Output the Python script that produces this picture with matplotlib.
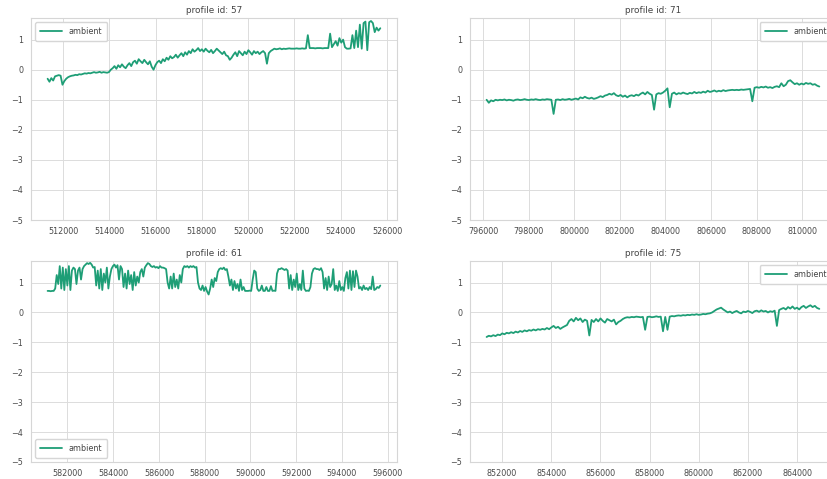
import numpy as np
import matplotlib
matplotlib.use("Agg")
import matplotlib.pyplot as plt
from matplotlib.ticker import MultipleLocator
import seaborn as sns

# ambient temperature (scaled) for four profiles, sampled evenly over the row index
profile_ids = [57, 71, 61, 75]
index_ranges = {
    57: (511330, 525710),
    71: (796150, 810750),
    61: (581130, 595680),
    75: (851370, 864900),
}

ambient_57 = [
    -0.30, -0.40, -0.28, -0.36, -0.22, -0.20, -0.18, -0.20,
    -0.50, -0.38, -0.30, -0.25,
    -0.22, -0.20, -0.19, -0.17, -0.18, -0.15, -0.16, -0.14, -0.12, -0.13, -0.11,
    -0.12, -0.10, -0.08, -0.10, -0.09, -0.07, -0.10, -0.08, -0.09, -0.10, -0.08,
    0.00, 0.05, 0.12, 0.03, 0.15, 0.08, 0.18, 0.10, 0.05, 0.15, 0.22, 0.12,
    0.25, 0.30, 0.20, 0.35, 0.28, 0.22, 0.33, 0.25, 0.18, 0.28, 0.10, 0.00,
    0.15, 0.25, 0.30, 0.22, 0.35, 0.28, 0.40, 0.33, 0.45, 0.38, 0.42, 0.50, 0.40,
    0.48, 0.55, 0.45, 0.58, 0.50, 0.62, 0.55, 0.68, 0.60, 0.65, 0.72, 0.62,
    0.68, 0.60, 0.70, 0.63, 0.58, 0.66, 0.55, 0.62, 0.70, 0.64, 0.58, 0.52, 0.60,
    0.48, 0.45,
    0.33, 0.40,
    0.50, 0.58, 0.45, 0.62, 0.55, 0.48, 0.60, 0.52, 0.65, 0.58, 0.50, 0.62, 0.55,
    0.60, 0.52, 0.58, 0.62, 0.55,
    0.20, 0.55,
    0.62, 0.66, 0.70, 0.68, 0.69, 0.71, 0.68, 0.70, 0.69, 0.70, 0.71, 0.70, 0.70,
    0.70, 0.71, 0.70, 0.70, 0.71, 0.70, 0.71,
    1.15, 0.72,
    0.72, 0.72, 0.71, 0.72, 0.72, 0.72, 0.71, 0.72, 0.72, 0.72,
    1.20, 0.75,
    0.85, 0.95, 0.80, 1.05, 0.90, 1.00, 0.75,
    0.70, 0.70, 0.71,
    1.15, 0.72, 1.30, 0.75,
    1.50, 0.70, 1.55, 1.60, 0.65, 1.58, 1.62, 1.55, 1.25, 1.40, 1.30, 1.38,
]

ambient_71 = [
    -1.00, -1.10, -1.02, -1.05, -1.00,
    -1.02, -1.00, -1.01, -0.99, -1.02, -1.00, -1.01, -1.03, -1.00, -0.99, -1.01,
    -1.00, -0.98, -1.00, -1.01, -0.99, -1.00, -0.98, -1.00, -1.01, -0.99, -1.00,
    -0.98, -0.99, -1.00,
    -1.47,
    -1.00, -0.99, -1.01, -0.98, -1.00, -0.99, -0.97, -1.00, -0.98, -0.96, -0.99,
    -0.92, -0.95, -0.90, -0.94, -0.96, -0.93, -0.97, -0.95, -0.92, -0.88, -0.91,
    -0.86, -0.84,
    -0.80, -0.83, -0.78, -0.85,
    -0.88, -0.84, -0.90, -0.86, -0.92, -0.87, -0.85, -0.88, -0.83, -0.86, -0.80,
    -0.76, -0.82, -0.74, -0.80, -0.84,
    -1.33,
    -0.82, -0.78, -0.80, -0.76, -0.70,
    -0.62, -1.25,
    -0.80, -0.76, -0.82, -0.78, -0.80, -0.76, -0.79, -0.81, -0.77, -0.79, -0.74,
    -0.78, -0.75, -0.77,
    -0.73, -0.76, -0.70, -0.74, -0.72, -0.69, -0.73, -0.70, -0.72, -0.68, -0.71,
    -0.69,
    -0.68, -0.67, -0.68, -0.67, -0.68, -0.66, -0.67, -0.66, -0.65, -0.64,
    -1.05,
    -0.60, -0.58, -0.60, -0.57, -0.59, -0.56, -0.60, -0.58, -0.61, -0.57, -0.55,
    -0.58,
    -0.45, -0.55, -0.50,
    -0.38, -0.35, -0.42,
    -0.48, -0.45, -0.50, -0.46, -0.49, -0.44, -0.47, -0.45, -0.50, -0.48, -0.53,
    -0.56,
]

ambient_61 = [
    0.72, 0.72, 0.71, 0.72, 0.72,
    0.80, 1.25, 0.95, 1.55,
    0.80, 1.50, 0.75, 1.45, 0.90, 1.55, 0.75, 1.40,
    1.50, 1.45, 0.95, 1.40, 1.50, 1.10, 1.45, 1.55,
    1.60, 1.65, 1.62, 1.66, 1.60,
    1.50, 1.52, 0.90,
    1.40, 0.80, 1.45, 0.75, 1.30, 1.00, 1.50, 0.80, 1.20, 1.45,
    1.55, 1.60, 1.50, 1.58, 1.10, 1.55, 1.45,
    0.85, 1.30, 0.80, 1.40, 0.95, 1.25, 0.75, 1.35, 0.90, 1.20, 1.00,
    1.35, 1.45, 1.20, 1.50, 1.58, 1.65, 1.62,
    1.55, 1.52, 1.55, 1.50, 1.52, 1.48, 1.55, 1.50, 1.50, 1.48, 1.45,
    1.00, 0.80,
    1.20, 0.80, 1.30, 0.85, 1.10, 0.80, 1.25, 1.00,
    1.45, 1.55, 1.52, 1.55, 1.50, 1.55, 1.52, 1.55, 1.50, 1.52,
    1.00, 0.80,
    0.75, 0.90, 0.72, 0.85, 0.70, 0.60,
    0.80, 1.10, 0.85, 1.15, 1.05,
    1.35, 1.45, 1.48, 1.45, 1.50, 1.42, 1.45, 1.20,
    0.90, 1.10, 0.75, 1.05, 0.80, 0.95, 0.72, 1.10, 0.75, 0.85, 0.72,
    0.72, 0.72, 0.73, 0.72,
    1.10, 1.40, 1.35,
    0.80, 0.72, 0.75, 0.90, 0.72, 0.72, 0.85, 0.72, 0.72, 0.88, 0.72, 0.73, 0.72,
    1.30, 1.45, 1.45, 1.48, 1.45, 1.42, 1.45, 1.40,
    0.80, 1.25, 0.75, 1.10, 0.85, 1.30, 0.75, 0.95,
    0.75, 1.40, 0.80, 0.72, 0.73, 0.72, 0.85,
    1.30, 1.45, 1.48, 1.45, 1.45, 1.42, 1.48, 1.35,
    0.80, 1.15, 0.75, 1.20, 0.85, 0.95,
    1.45,
    0.75, 0.90, 0.72, 1.05, 0.75, 0.85, 0.72, 1.15,
    1.35, 0.80, 1.40, 0.75, 1.38, 0.85, 1.40, 1.20,
    0.80, 0.85, 0.75, 0.90, 0.78, 0.82, 0.75, 0.85, 0.78,
    1.20,
    0.75, 0.78, 0.85, 0.82, 0.90,
]

ambient_75 = [
    -0.82, -0.78, -0.80, -0.76, -0.79, -0.74, -0.76,
    -0.70, -0.73, -0.68, -0.70, -0.66, -0.69, -0.64, -0.67, -0.62, -0.65, -0.60,
    -0.63, -0.59, -0.61, -0.57, -0.60, -0.56, -0.58, -0.55, -0.57,
    -0.52, -0.56, -0.50, -0.45, -0.52, -0.48, -0.55, -0.50, -0.46, -0.42,
    -0.28, -0.22, -0.30, -0.18, -0.26, -0.20, -0.32, -0.24, -0.28,
    -0.77,
    -0.25, -0.32, -0.22, -0.30, -0.20, -0.28, -0.34, -0.22, -0.26, -0.30, -0.24,
    -0.40, -0.32,
    -0.28, -0.22, -0.18, -0.16, -0.17, -0.15, -0.16, -0.14, -0.15, -0.16, -0.15,
    -0.58,
    -0.15, -0.14, -0.16, -0.15, -0.13, -0.15, -0.14,
    -0.63, -0.15, -0.58,
    -0.14, -0.12, -0.13, -0.11, -0.10, -0.11, -0.09, -0.10, -0.08, -0.09, -0.07,
    -0.08, -0.06, -0.08, -0.07, -0.05, -0.06, -0.04, -0.03, 0.00,
    0.05, 0.10, 0.13, 0.16, 0.10, 0.05,
    0.00, 0.03, -0.02, 0.02, 0.05, 0.00, -0.03, 0.03, 0.01, 0.05, 0.02, -0.02,
    0.04, 0.06, 0.02, 0.07, 0.03, 0.05, 0.00, 0.04, 0.02, 0.06,
    -0.45,
    0.08, 0.12, 0.15, 0.10, 0.18, 0.13, 0.20, 0.12, 0.16, 0.10, 0.18, 0.22, 0.15,
    0.20, 0.24, 0.18, 0.22, 0.15, 0.12,
]

ambient = {57: ambient_57, 71: ambient_71, 61: ambient_61, 75: ambient_75}
legend_loc = {57: 'upper left', 71: 'upper right', 61: 'lower left', 75: 'upper right'}

sns.set_style("whitegrid")
plt.rcParams['font.family'] = ['DejaVu Sans']
plt.rcParams['axes.edgecolor'] = '#d6d6d6'
plt.rcParams['axes.linewidth'] = 0.8
plt.rcParams['grid.color'] = '#dcdcdc'
plt.rcParams['grid.linewidth'] = 0.7
plt.rcParams['text.color'] = '#444444'
plt.rcParams['xtick.color'] = '#4a4a4a'
plt.rcParams['ytick.color'] = '#4a4a4a'

fig = plt.figure(figsize=(8.28, 4.79), dpi=100)

# axes boxes in figure fraction; the right column runs past the right edge
boxes = {
    57: [0.0374, 0.5407, 0.4420, 0.4217],
    71: [0.5676, 0.5407, 0.4420, 0.4217],
    61: [0.0374, 0.0355, 0.4420, 0.4196],
    75: [0.5676, 0.0355, 0.4420, 0.4196],
}

for pid in profile_ids:
    ax = fig.add_axes(boxes[pid])
    vals = np.array(ambient[pid])
    start, stop = index_ranges[pid]
    idx = np.linspace(start, stop, len(vals))
    ax.plot(idx, vals, color='#1e9e76', linewidth=1.3, label='ambient')
    ax.set_ylim(-5, 1.72)
    ax.xaxis.set_major_locator(MultipleLocator(2000))
    ax.yaxis.set_major_locator(MultipleLocator(1))
    ax.ticklabel_format(axis='x', useOffset=False, style='plain')
    ax.tick_params(labelsize=5.8, length=0)
    ax.tick_params(axis='y', pad=5.5)
    ax.tick_params(axis='x', pad=5)
    ax.set_title('profile id: %d' % pid, fontsize=6.4, pad=3.5, color='#444444')
    ax.legend(loc=legend_loc[pid], fontsize=5.8, handlelength=2.8,
              frameon=True, edgecolor='#d6d6d6', framealpha=1.0,
              borderpad=0.6, fancybox=True)

fig.savefig('out.png', dpi=100)
